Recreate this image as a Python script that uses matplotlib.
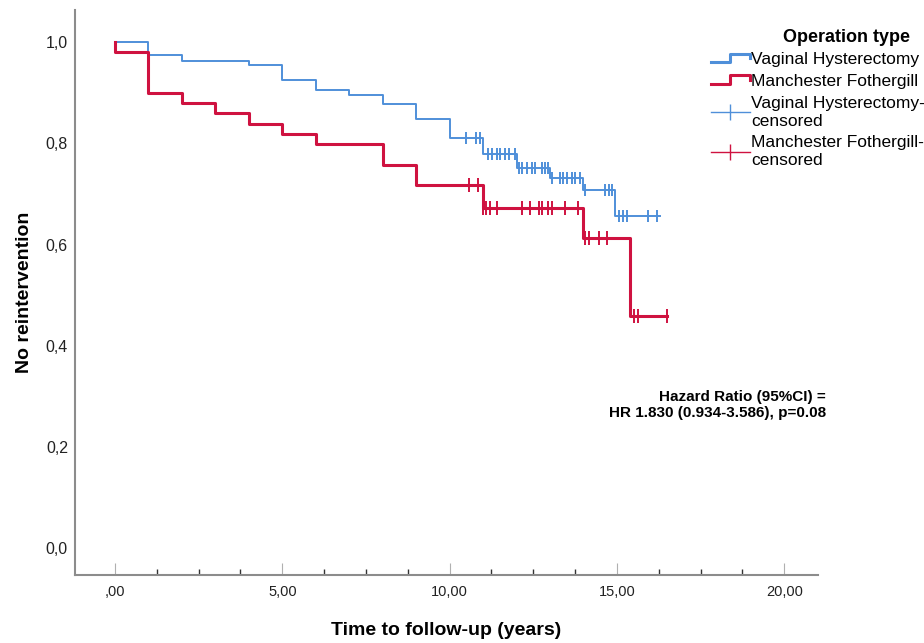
import numpy as np
import matplotlib
matplotlib.use("Agg")
import matplotlib.pyplot as plt
from matplotlib.lines import Line2D
from matplotlib.legend_handler import HandlerBase
from matplotlib.ticker import MultipleLocator, FixedLocator

plt.rcParams['font.family'] = ['Liberation Sans', 'DejaVu Sans']

# Kaplan-Meier curves
vh_times = [0, 1, 2, 4, 5, 6, 7, 8, 9, 10, 11, 12, 13, 14, 14.95]
vh_surv = [1.0, 0.974, 0.963, 0.954, 0.925, 0.905, 0.896, 0.877, 0.848, 0.810,
           0.779, 0.751, 0.732, 0.708, 0.657]
vh_end = 16.3
vh_cens = [10.5, 10.8, 10.9, 11.16, 11.26, 11.41, 11.51, 11.66, 11.76, 11.96,
           12.06, 12.16, 12.31, 12.45, 12.55, 12.75, 12.85, 12.95, 13.05, 13.3,
           13.4, 13.5, 13.65, 13.75, 13.9, 14.05, 14.65, 14.75, 14.85, 15.05,
           15.19, 15.29, 15.94, 16.19]

mf_times = [0, 0, 1, 2, 3, 4, 5, 6, 8, 9, 11, 14, 15.4]
mf_surv = [1.0, 0.98, 0.90, 0.88, 0.86, 0.839, 0.818, 0.798, 0.757, 0.718,
           0.672, 0.613, 0.459]
mf_end = 16.5
mf_cens = [10.57, 10.84, 11.0, 11.1, 11.21, 11.41, 12.16, 12.41, 12.66, 12.76,
           12.95, 13.05, 13.45, 13.85, 14.05, 14.15, 14.45, 14.7, 15.5, 15.64,
           16.49]

xticks = [0, 5, 10, 15, 20]
xtick_labels = [',00', '5,00', '10,00', '15,00', '20,00']
yticks = [0, 0.2, 0.4, 0.6, 0.8, 1.0]
ytick_labels = ['0,0', '0,2', '0,4', '0,6', '0,8', '1,0']

blue = '#4f8fd9'
red = '#cf1240'


def surv_at(times, surv, t):
    i = np.searchsorted(times, t, side='right') - 1
    return np.array(surv)[i]


class StepHandler(HandlerBase):
    def __init__(self, color, lw):
        super().__init__()
        self.color = color
        self.lw = lw

    def create_artists(self, legend, orig_handle, xdescent, ydescent,
                       width, height, fontsize, trans):
        x0 = -xdescent
        y0 = -ydescent
        xs = [x0, x0 + 0.5 * width, x0 + 0.5 * width, x0 + width, x0 + width]
        ys = [y0 + 0.2 * height, y0 + 0.2 * height, y0 + 0.9 * height,
              y0 + 0.9 * height, y0 + 0.55 * height]
        ln = Line2D(xs, ys, color=self.color, lw=self.lw, transform=trans)
        return [ln]


fig = plt.figure(figsize=(9.24, 6.43), dpi=100)
ax = fig.add_axes([0.081, 0.106, 0.804, 0.878])

# curves
ax.step(list(vh_times) + [vh_end], list(vh_surv) + [vh_surv[-1]], where='post',
        color=blue, lw=1.4)
ax.step(list(mf_times) + [mf_end], list(mf_surv) + [mf_surv[-1]], where='post',
        color=red, lw=2.2)

# censored marks
ax.plot(vh_cens, surv_at(vh_times, vh_surv, vh_cens), ls='none', marker='|',
        ms=9, mew=1.4, color=blue)
ax.plot(mf_cens, surv_at(mf_times, mf_surv, mf_cens), ls='none', marker='|',
        ms=10, mew=1.4, color=red)

ax.set_xlim(-1.2, 21.0)
ax.set_ylim(-0.053, 1.063)

for s in ['top', 'right']:
    ax.spines[s].set_visible(False)
for s in ['left', 'bottom']:
    ax.spines[s].set_color('#8c8c8c')
    ax.spines[s].set_linewidth(1.5)

ax.xaxis.set_major_locator(FixedLocator(xticks))
ax.set_xticklabels(xtick_labels, fontsize=10.5, color='#222222')
ax.xaxis.set_minor_locator(MultipleLocator(1.25))
ax.tick_params(axis='x', which='major', direction='in', length=9, width=0.8,
               color='#b0b0b0', pad=7)
ax.tick_params(axis='x', which='minor', direction='in', length=4, width=1,
               color='#333333')
ax.set_yticks(yticks)
ax.set_yticklabels(ytick_labels, fontsize=11.5, color='#222222')
ax.tick_params(axis='y', length=0, pad=5)

ax.set_xlabel('Time to follow-up (years)', fontsize=14, fontweight='bold',
              labelpad=17)
ax.set_ylabel('No reintervention', fontsize=14, fontweight='bold', labelpad=9)

ax.text(21.25, 0.283, 'Hazard Ratio (95%CI) =\nHR 1.830 (0.934-3.586), p=0.08',
        ha='right', va='center', fontsize=11, fontweight='bold',
        linespacing=1.2, clip_on=False)

# legend
h_vh = Line2D([], [], color=blue)
h_mf = Line2D([], [], color=red)
h_vhc = Line2D([], [], color=blue, lw=1, marker='|', ms=12, mew=1)
h_mfc = Line2D([], [], color=red, lw=1, marker='|', ms=12, mew=1)
leg = fig.legend([h_vh, h_mf, h_vhc, h_mfc],
                 ['Vaginal Hysterectomy', 'Manchester Fothergill',
                  'Vaginal Hysterectomy-\ncensored', 'Manchester Fothergill-\ncensored'],
                 handler_map={h_vh: StepHandler(blue, 2.2), h_mf: StepHandler(red, 2.2)},
                 loc='upper left', bbox_to_anchor=(0.768, 0.958), frameon=False,
                 fontsize=12.5, title='Operation type   ', handlelength=2.2,
                 handletextpad=0.1, labelspacing=0.38, borderpad=0.1,
                 borderaxespad=0)
leg.get_title().set_fontweight('bold')
leg.get_title().set_fontsize(13)
for t in leg.get_texts():
    t.set_linespacing(1.25)
leg._legend_box.align = 'right'

fig.savefig('out.png', dpi=100)
